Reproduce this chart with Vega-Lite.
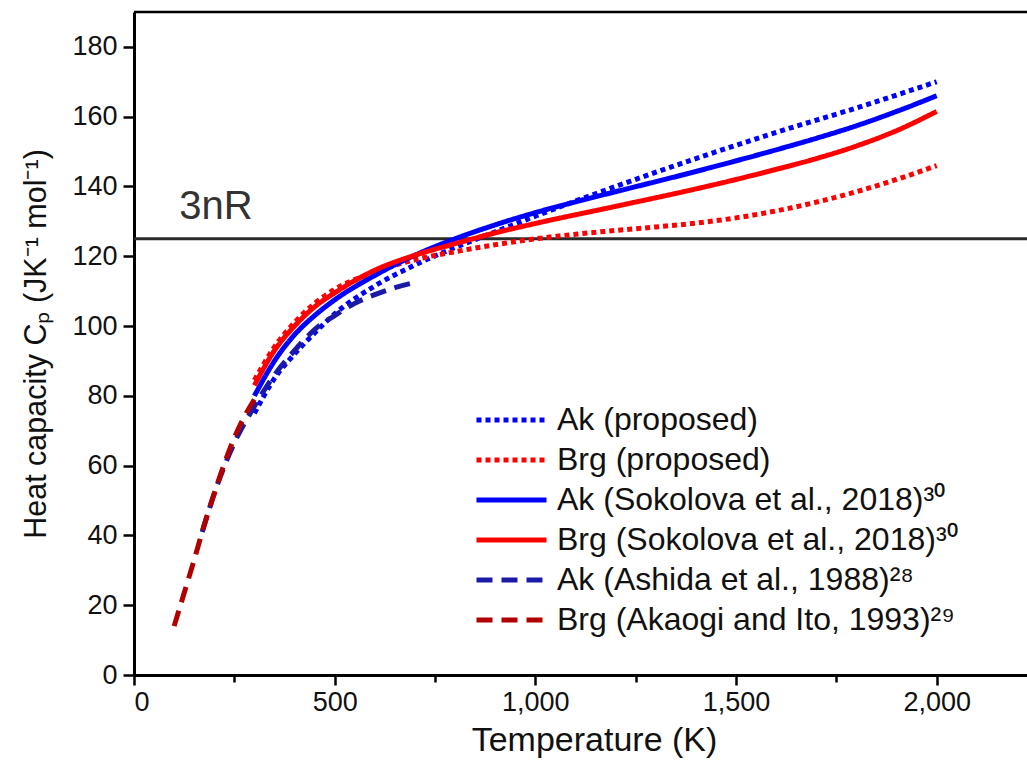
{
  "$schema": "https://vega.github.io/schema/vega-lite/v6.json",
  "width": 893,
  "height": 663,
  "autosize": {"type": "none"},
  "padding": {"left": 134, "top": 12, "right": 0, "bottom": 96},
  "background": "white",
  "config": {
    "font": "Liberation Sans",
    "view": {"stroke": null},
    "axis": {"domainColor": "black", "domainWidth": 3, "tickColor": "black", "tickWidth": 2.5, "labelColor": "#111", "titleColor": "#111", "grid": false, "labelFont": "Liberation Sans", "titleFont": "Liberation Sans", "titleFontWeight": "normal"}
  },
  "layer": [
    {
      "data": {"values": [{}]},
      "mark": {"type": "rule", "color": "#2a2a2a", "strokeWidth": 3},
      "encoding": {"y": {"datum": 125, "type": "quantitative"}}
    },
    {
      "data": {"values": [{}]},
      "mark": {"type": "text", "text": "3nR", "fontSize": 40, "align": "left", "baseline": "alphabetic", "color": "#333333"},
      "encoding": {"x": {"datum": 113, "type": "quantitative"}, "y": {"datum": 130.8, "type": "quantitative"}}
    },
    {
      "data": {"values": [{}]},
      "mark": {"type": "rule", "color": "black", "strokeWidth": 2.5},
      "encoding": {"y": {"datum": 190, "type": "quantitative"}}
    },
    {
      "data": {"values": [
        {"s": "Ak (proposed)", "T": 300, "Cp": 75},
        {"s": "Ak (proposed)", "T": 350, "Cp": 85},
        {"s": "Ak (proposed)", "T": 400, "Cp": 92},
        {"s": "Ak (proposed)", "T": 450, "Cp": 98},
        {"s": "Ak (proposed)", "T": 500, "Cp": 103.5},
        {"s": "Ak (proposed)", "T": 600, "Cp": 111.5},
        {"s": "Ak (proposed)", "T": 700, "Cp": 117.5},
        {"s": "Ak (proposed)", "T": 800, "Cp": 122.5},
        {"s": "Ak (proposed)", "T": 900, "Cp": 127},
        {"s": "Ak (proposed)", "T": 1000, "Cp": 131.5},
        {"s": "Ak (proposed)", "T": 1200, "Cp": 140},
        {"s": "Ak (proposed)", "T": 1400, "Cp": 148},
        {"s": "Ak (proposed)", "T": 1600, "Cp": 155.5},
        {"s": "Ak (proposed)", "T": 1800, "Cp": 162.5},
        {"s": "Ak (proposed)", "T": 2000, "Cp": 170},
        {"s": "Brg (proposed)", "T": 300, "Cp": 84.5},
        {"s": "Brg (proposed)", "T": 350, "Cp": 94},
        {"s": "Brg (proposed)", "T": 400, "Cp": 101},
        {"s": "Brg (proposed)", "T": 450, "Cp": 106.5},
        {"s": "Brg (proposed)", "T": 500, "Cp": 110.5},
        {"s": "Brg (proposed)", "T": 600, "Cp": 115.5},
        {"s": "Brg (proposed)", "T": 700, "Cp": 119},
        {"s": "Brg (proposed)", "T": 800, "Cp": 121.3},
        {"s": "Brg (proposed)", "T": 900, "Cp": 123.3},
        {"s": "Brg (proposed)", "T": 1000, "Cp": 125},
        {"s": "Brg (proposed)", "T": 1100, "Cp": 126.3},
        {"s": "Brg (proposed)", "T": 1200, "Cp": 127.4},
        {"s": "Brg (proposed)", "T": 1300, "Cp": 128.4},
        {"s": "Brg (proposed)", "T": 1400, "Cp": 129.5},
        {"s": "Brg (proposed)", "T": 1500, "Cp": 131},
        {"s": "Brg (proposed)", "T": 1600, "Cp": 133},
        {"s": "Brg (proposed)", "T": 1700, "Cp": 135.5},
        {"s": "Brg (proposed)", "T": 1800, "Cp": 138.5},
        {"s": "Brg (proposed)", "T": 1900, "Cp": 142},
        {"s": "Brg (proposed)", "T": 2000, "Cp": 146},
        {"s": "Ak (Sokolova et al., 2018)³⁰", "T": 300, "Cp": 80},
        {"s": "Ak (Sokolova et al., 2018)³⁰", "T": 350, "Cp": 90},
        {"s": "Ak (Sokolova et al., 2018)³⁰", "T": 400, "Cp": 97.5},
        {"s": "Ak (Sokolova et al., 2018)³⁰", "T": 450, "Cp": 103},
        {"s": "Ak (Sokolova et al., 2018)³⁰", "T": 500, "Cp": 107.5},
        {"s": "Ak (Sokolova et al., 2018)³⁰", "T": 600, "Cp": 114.5},
        {"s": "Ak (Sokolova et al., 2018)³⁰", "T": 700, "Cp": 120.3},
        {"s": "Ak (Sokolova et al., 2018)³⁰", "T": 800, "Cp": 125},
        {"s": "Ak (Sokolova et al., 2018)³⁰", "T": 900, "Cp": 129},
        {"s": "Ak (Sokolova et al., 2018)³⁰", "T": 1000, "Cp": 132.5},
        {"s": "Ak (Sokolova et al., 2018)³⁰", "T": 1100, "Cp": 135.6},
        {"s": "Ak (Sokolova et al., 2018)³⁰", "T": 1200, "Cp": 138.5},
        {"s": "Ak (Sokolova et al., 2018)³⁰", "T": 1400, "Cp": 144.3},
        {"s": "Ak (Sokolova et al., 2018)³⁰", "T": 1600, "Cp": 150.5},
        {"s": "Ak (Sokolova et al., 2018)³⁰", "T": 1700, "Cp": 153.8},
        {"s": "Ak (Sokolova et al., 2018)³⁰", "T": 1800, "Cp": 157.4},
        {"s": "Ak (Sokolova et al., 2018)³⁰", "T": 1900, "Cp": 161.5},
        {"s": "Ak (Sokolova et al., 2018)³⁰", "T": 2000, "Cp": 166},
        {"s": "Brg (Sokolova et al., 2018)³⁰", "T": 300, "Cp": 83},
        {"s": "Brg (Sokolova et al., 2018)³⁰", "T": 350, "Cp": 93},
        {"s": "Brg (Sokolova et al., 2018)³⁰", "T": 400, "Cp": 100},
        {"s": "Brg (Sokolova et al., 2018)³⁰", "T": 450, "Cp": 105.5},
        {"s": "Brg (Sokolova et al., 2018)³⁰", "T": 500, "Cp": 109.5},
        {"s": "Brg (Sokolova et al., 2018)³⁰", "T": 600, "Cp": 116},
        {"s": "Brg (Sokolova et al., 2018)³⁰", "T": 700, "Cp": 120.3},
        {"s": "Brg (Sokolova et al., 2018)³⁰", "T": 800, "Cp": 123.6},
        {"s": "Brg (Sokolova et al., 2018)³⁰", "T": 900, "Cp": 126.7},
        {"s": "Brg (Sokolova et al., 2018)³⁰", "T": 1000, "Cp": 129.4},
        {"s": "Brg (Sokolova et al., 2018)³⁰", "T": 1200, "Cp": 134.3},
        {"s": "Brg (Sokolova et al., 2018)³⁰", "T": 1400, "Cp": 139.3},
        {"s": "Brg (Sokolova et al., 2018)³⁰", "T": 1500, "Cp": 142},
        {"s": "Brg (Sokolova et al., 2018)³⁰", "T": 1600, "Cp": 144.9},
        {"s": "Brg (Sokolova et al., 2018)³⁰", "T": 1700, "Cp": 148},
        {"s": "Brg (Sokolova et al., 2018)³⁰", "T": 1800, "Cp": 151.6},
        {"s": "Brg (Sokolova et al., 2018)³⁰", "T": 1900, "Cp": 156},
        {"s": "Brg (Sokolova et al., 2018)³⁰", "T": 2000, "Cp": 161.5},
        {"s": "Ak (Ashida et al., 1988)²⁸", "T": 170, "Cp": 41},
        {"s": "Ak (Ashida et al., 1988)²⁸", "T": 200, "Cp": 52},
        {"s": "Ak (Ashida et al., 1988)²⁸", "T": 250, "Cp": 66.5},
        {"s": "Ak (Ashida et al., 1988)²⁸", "T": 300, "Cp": 77},
        {"s": "Ak (Ashida et al., 1988)²⁸", "T": 350, "Cp": 86},
        {"s": "Ak (Ashida et al., 1988)²⁸", "T": 400, "Cp": 93},
        {"s": "Ak (Ashida et al., 1988)²⁸", "T": 450, "Cp": 99},
        {"s": "Ak (Ashida et al., 1988)²⁸", "T": 500, "Cp": 103},
        {"s": "Ak (Ashida et al., 1988)²⁸", "T": 550, "Cp": 106.5},
        {"s": "Ak (Ashida et al., 1988)²⁸", "T": 600, "Cp": 109},
        {"s": "Ak (Ashida et al., 1988)²⁸", "T": 650, "Cp": 111},
        {"s": "Ak (Ashida et al., 1988)²⁸", "T": 700, "Cp": 112.5},
        {"s": "Brg (Akaogi and Ito, 1993)²⁹", "T": 100, "Cp": 14},
        {"s": "Brg (Akaogi and Ito, 1993)²⁹", "T": 125, "Cp": 23.5},
        {"s": "Brg (Akaogi and Ito, 1993)²⁹", "T": 150, "Cp": 33},
        {"s": "Brg (Akaogi and Ito, 1993)²⁹", "T": 175, "Cp": 43},
        {"s": "Brg (Akaogi and Ito, 1993)²⁹", "T": 200, "Cp": 52},
        {"s": "Brg (Akaogi and Ito, 1993)²⁹", "T": 225, "Cp": 60.5},
        {"s": "Brg (Akaogi and Ito, 1993)²⁹", "T": 250, "Cp": 68},
        {"s": "Brg (Akaogi and Ito, 1993)²⁹", "T": 275, "Cp": 74},
        {"s": "Brg (Akaogi and Ito, 1993)²⁹", "T": 300, "Cp": 79}
      ]},
      "mark": {"type": "line", "interpolate": "monotone"},
      "encoding": {
        "x": {
          "field": "T", "type": "quantitative",
          "scale": {"domain": [0, 2225], "nice": false, "zero": false},
          "axis": {
            "title": "Temperature (K)", "titleFontSize": 34, "titlePadding": 8, "titleX": 460,
            "values": [0, 250, 500, 750, 1000, 1250, 1500, 1750, 2000],
            "labelExpr": "datum.value % 500 === 0 ? format(datum.value, ',') : ''",
            "labelFontSize": 27, "labelPadding": 4,
            "tickSize": {"condition": {"test": "datum.value % 500 === 0", "value": 10}, "value": 7}
          }
        },
        "y": {
          "field": "Cp", "type": "quantitative",
          "scale": {"domain": [0, 190], "nice": false},
          "axis": {
            "title": "Heat capacity Cₚ (JK⁻¹ mol⁻¹)", "titleFontSize": 30.5, "titlePadding": 20,
            "values": [0, 10, 20, 30, 40, 50, 60, 70, 80, 90, 100, 110, 120, 130, 140, 150, 160, 170, 180],
            "labelExpr": "datum.value % 20 === 0 ? datum.label : ''",
            "labelFontSize": 27, "labelPadding": 6,
            "tickSize": {"condition": {"test": "datum.value % 20 === 0", "value": 11}, "value": 7}
          }
        },
        "color": {
          "field": "s", "type": "nominal",
          "scale": {
            "domain": ["Ak (proposed)", "Brg (proposed)", "Ak (Sokolova et al., 2018)³⁰", "Brg (Sokolova et al., 2018)³⁰", "Ak (Ashida et al., 1988)²⁸", "Brg (Akaogi and Ito, 1993)²⁹"],
            "range": ["#0000ff", "#ff0000", "#0000ff", "#ff0000", "#1a1aa6", "#b00000"]
          },
          "legend": {
            "title": null, "orient": "none", "legendX": 340, "legendY": 388,
            "symbolType": "stroke", "symbolSize": 4900, "clipHeight": 40, "rowPadding": 0,
            "labelFontSize": 32, "labelColor": "#111", "labelLimit": 700, "labelOffset": 8
          }
        },
        "strokeDash": {
          "field": "s", "type": "nominal",
          "scale": {
            "domain": ["Ak (proposed)", "Brg (proposed)", "Ak (Sokolova et al., 2018)³⁰", "Brg (Sokolova et al., 2018)³⁰", "Ak (Ashida et al., 1988)²⁸", "Brg (Akaogi and Ito, 1993)²⁹"],
            "range": [[5, 4], [5, 4], [1, 0], [1, 0], [16, 9], [16, 9]]
          },
          "legend": null
        },
        "strokeWidth": {
          "field": "s", "type": "nominal",
          "scale": {
            "domain": ["Ak (proposed)", "Brg (proposed)", "Ak (Sokolova et al., 2018)³⁰", "Brg (Sokolova et al., 2018)³⁰", "Ak (Ashida et al., 1988)²⁸", "Brg (Akaogi and Ito, 1993)²⁹"],
            "range": [5, 5, 5, 5, 3, 3]
          },
          "legend": null
        }
      }
    }
  ]
}
